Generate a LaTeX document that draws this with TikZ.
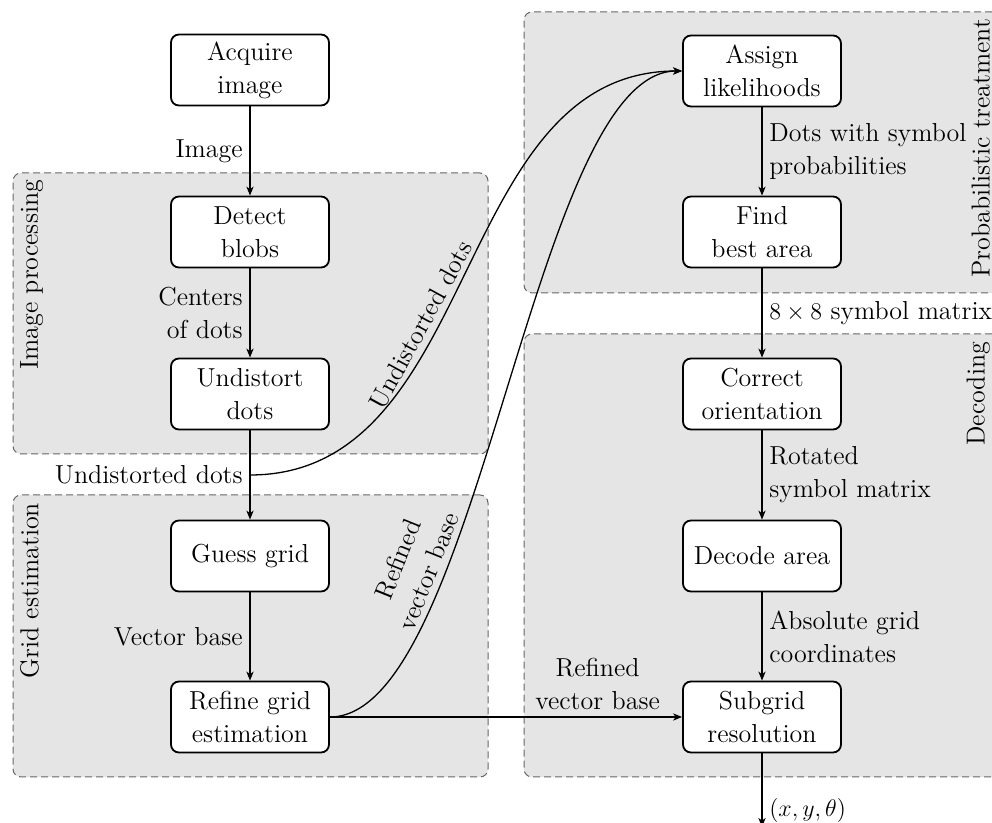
\documentclass[tikz,border=0pt]{standalone}
\usetikzlibrary{arrows.meta,fit}

\begin{document}
\begin{tikzpicture}[
  x=0.5pt, y=0.5pt,
  every node/.style={font=\fontsize{13}{16.5}\selectfont},
  procbox/.style={draw, line width=0.9pt, rounded corners=4pt, fill=white,
    minimum width=79pt, minimum height=35.5pt, align=center, inner sep=2pt},
  group/.style={draw=black!60, line width=0.5pt, dash pattern=on 3.5pt off 2pt,
    fill=black!10, rounded corners=4pt, inner sep=0pt},
  grouplabel/.style={rotate=90, inner sep=0pt, outer sep=0pt},
  flow/.style={line width=0.65pt, -{Stealth[length=4.5pt, width=3.6pt, inset=1.3pt]}},
  lblL/.style={anchor=east, align=right},
  lblR/.style={anchor=west, align=left}
]
\useasboundingbox (0,0) rectangle (992,-823);
\clip (0,0) rectangle (992,-823);

% processing stages (shaded groups)
\node[group, fit={(13,-173) (488,-454)}] (imgproc) {};
\node[group, fit={(13,-495) (488,-777)}] (gridest) {};
\node[group, fit={(524,-12) (1000,-293)}] (prob) {};
\node[group, fit={(524,-334) (1000,-777)}] (decoding) {};

\node[grouplabel, anchor=north east] (lblimg) at (20,-180) {Image processing};
\node[grouplabel, anchor=north east] (lblgrid) at (20,-503) {Grid estimation};
\node[grouplabel, anchor=south east] (lblprob) at (990,-19) {Probabilistic treatment};
\node[grouplabel, anchor=south east] (lbldec) at (990,-342) {Decoding};

% left column
\node[procbox] (acq) at (250,-70)  {Acquire\\image};
\node[procbox] (det) at (250,-232) {Detect\\blobs};
\node[procbox] (und) at (250,-394) {Undistort\\dots};
\node[procbox] (gue) at (250,-556) {Guess grid};
\node[procbox] (ref) at (250,-717) {Refine grid\\estimation};

% right column
\node[procbox] (asg) at (762,-71)  {Assign\\likelihoods};
\node[procbox] (fnd) at (762,-232) {Find\\best area};
\node[procbox] (cor) at (762,-394) {Correct\\orientation};
\node[procbox] (dec) at (762,-556) {Decode area};
\node[procbox] (sub) at (762,-717) {Subgrid\\resolution};

\coordinate (result) at (762,-827);

% connectors
\draw[flow] (acq) -- node[lblL] {Image} (det);
\draw[flow] (det) -- node[lblL] {Centers\\of dots} (und);
\draw[flow] (und) -- coordinate[midway] (split) node[lblL, midway] {Undistorted dots} (gue);
\draw[flow] (gue) -- node[lblL] {Vector base} (ref);

\draw[flow] (split) to[out=0, in=180]
  node[sloped, above, pos=0.4] {Undistorted dots} (asg.west);
\draw[flow] (ref.east) to[out=0, in=180, looseness=0.52]
  node[sloped, above, pos=0.3, align=center] {Refined\\vector base} (asg.west);
\draw[flow] (ref) -- node[above, pos=0.76, align=center] {Refined\\vector base} (sub);

\draw[flow] (asg) -- node[lblR] {Dots with symbol\\probabilities} (fnd);
\draw[flow] (fnd) -- node[lblR] {$8\times 8$ symbol matrix} (cor);
\draw[flow] (cor) -- node[lblR] {Rotated\\symbol matrix} (dec);
\draw[flow] (dec) -- node[lblR] {Absolute grid\\coordinates} (sub);
\draw[flow] (sub) -- node[lblR, pos=0.78] {$(x,y,\theta)$} (result);
\end{tikzpicture}
\end{document}
